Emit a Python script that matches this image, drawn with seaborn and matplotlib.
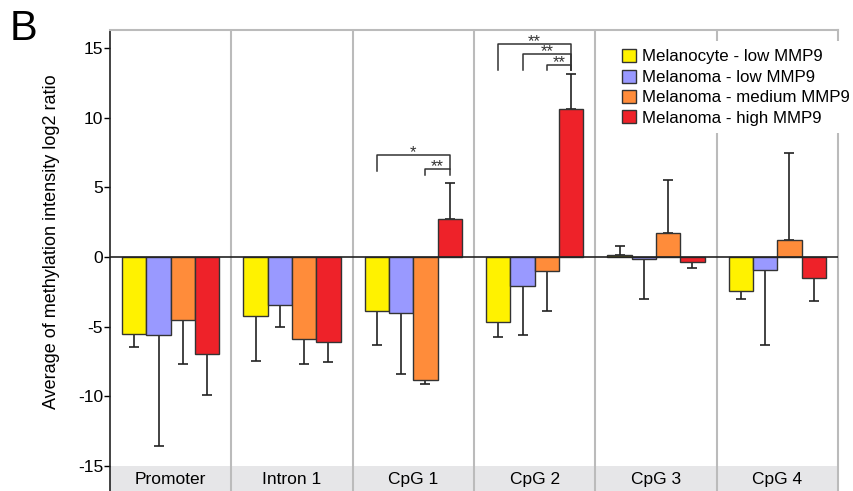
import pandas as pd
import seaborn as sns
import matplotlib.pyplot as plt
from matplotlib.patches import Patch

# data
regions = ["Promoter", "Intron 1", "CpG 1", "CpG 2", "CpG 3", "CpG 4"]
groups = ["Melanocyte - low MMP9", "Melanoma - low MMP9",
          "Melanoma - medium MMP9", "Melanoma - high MMP9"]
colors = ["#FFF200", "#9999FF", "#FF8C3A", "#EE2229"]

melanocyte_low = [-5.5, -4.2, -3.9, -4.7, 0.17, -2.45]
melanoma_low = [-5.6, -3.45, -4.0, -2.1, -0.15, -0.9]
melanoma_medium = [-4.55, -5.9, -8.8, -1.0, 1.7, 1.2]
melanoma_high = [-6.95, -6.1, 2.7, 10.6, -0.35, -1.5]

# one-sided error bars (away from zero)
err_melanocyte_low = [0.95, 3.25, 2.4, 1.05, 0.65, 0.6]
err_melanoma_low = [8.0, 1.6, 4.4, 3.5, 2.9, 5.45]
err_melanoma_medium = [3.1, 1.8, 0.35, 2.9, 3.85, 6.3]
err_melanoma_high = [2.95, 1.45, 2.6, 2.55, 0.45, 1.65]

# significance brackets: (region, bar from, bar to, top, left leg end, right leg end, label)
brackets = [
    (2, 0, 3, 7.3, 6.15, 6.3, "*"),
    (2, 2, 3, 6.3, 5.9, 5.9, "**"),
    (3, 0, 3, 15.3, 13.4, 13.4, "**"),
    (3, 1, 3, 14.6, 13.4, 13.4, "**"),
    (3, 2, 3, 13.8, 13.4, 13.4, "**"),
]

means = [melanocyte_low, melanoma_low, melanoma_medium, melanoma_high]
errs = [err_melanocyte_low, err_melanoma_low, err_melanoma_medium, err_melanoma_high]

df = pd.DataFrame({
    "region": regions * 4,
    "group": [g for g in groups for _ in regions],
    "value": [v for m in means for v in m],
})

plt.rcParams["font.family"] = ["Liberation Sans", "DejaVu Sans"]
plt.rcParams["axes.unicode_minus"] = False

fig = plt.figure(figsize=(8.54, 4.91), dpi=100)
ax = fig.add_axes([110 / 854, 0.0, (838 - 110) / 854, 461 / 491])

sns.barplot(data=df, x="region", y="value", hue="group", order=regions,
            hue_order=groups, palette=colors, saturation=1, errorbar=None,
            width=0.8, edgecolor="#333333", linewidth=1.0, legend=False,
            ax=ax, zorder=3)

ylo, yhi = -16.8, 16.3
ax.set_ylim(ylo, yhi)
ax.set_xlim(-0.5, len(regions) - 0.5)

# error bars from the bar positions
centers = []
for cont, m, e in zip(ax.containers, means, errs):
    xs = [p.get_x() + p.get_width() / 2 for p in cont.patches]
    centers.append(xs)
    lo = [ei if mi < 0 else 0 for mi, ei in zip(m, e)]
    hi = [ei if mi >= 0 else 0 for mi, ei in zip(m, e)]
    ax.errorbar(xs, m, yerr=[lo, hi], fmt="none", ecolor="#222222",
                elinewidth=1.2, capsize=3.8, capthick=1.2, zorder=2)

# significance brackets
for r, i, j, top, lleg, rleg, lab in brackets:
    x1, x2 = centers[i][r], centers[j][r]
    ax.plot([x1, x1, x2, x2], [lleg, top, top, rleg], color="#333333",
            lw=1.1, zorder=4)
    ax.text((x1 + x2) / 2, top - 0.15, lab, ha="center", va="baseline",
            fontsize=12, color="#333333")

# grey label band and separators
ax.axhspan(ylo, -15, color="#E6E6E8", zorder=0, lw=0)
for k in range(1, len(regions)):
    ax.axvline(k - 0.5, color="#BBBBBB", lw=1.5, zorder=1)
ax.axhline(0, color="#222222", lw=1.2, zorder=4)
for k, name in enumerate(regions):
    ax.text(k, -15.95, name, ha="center", va="center", fontsize=12.5)

ax.set_yticks(range(-15, 16, 5))
ax.set_yticklabels([str(t) for t in range(-15, 16, 5)], fontsize=12.5)
ax.tick_params(axis="y", length=4, width=1, pad=1)
ax.set_xticks([])
ax.set_xlabel("")
ax.set_ylabel("Average of methylation intensity log2 ratio", fontsize=13)
ax.yaxis.set_label_coords(-0.069, 0.54)

for s in ["top", "right"]:
    ax.spines[s].set_color("#BBBBBB")
    ax.spines[s].set_linewidth(1.5)
ax.spines["bottom"].set_visible(False)
ax.spines["left"].set_color("#222222")
ax.spines["left"].set_linewidth(1.2)

handles = [Patch(facecolor=c, edgecolor="#333333", lw=1.0) for c in colors]
leg = fig.legend(handles, groups, loc="upper left",
                 bbox_to_anchor=(606 / 854, 1 - 33 / 491), fontsize=12.2,
                 handlelength=0.8, handleheight=0.8, handletextpad=0.4,
                 labelspacing=0.3, borderpad=0.45, frameon=True)
leg.get_frame().set_facecolor("white")
leg.get_frame().set_edgecolor("none")
leg.get_frame().set_alpha(1)

fig.text(10 / 854, 1 - 40 / 491, "B", fontsize=30, ha="left", va="baseline")

fig.savefig("out.png", dpi=100)
